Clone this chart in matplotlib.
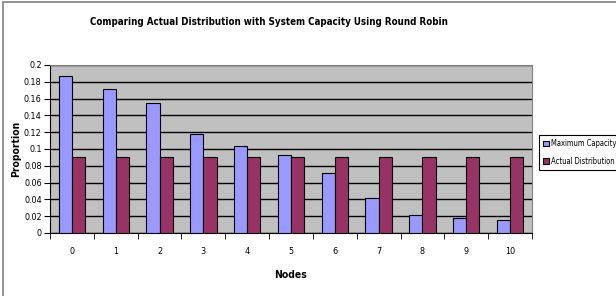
import numpy as np
import matplotlib.pyplot as plt
from matplotlib.patches import Rectangle

nodes = ['0', '1', '2', '3', '4', '5', '6', '7', '8', '9', '10']
max_capacity = [0.187, 0.172, 0.155, 0.118, 0.103, 0.093, 0.071, 0.042, 0.021, 0.018, 0.015]
actual_dist = [0.0909] * 11
yticks = [0, 0.02, 0.04, 0.06, 0.08, 0.1, 0.12, 0.14, 0.16, 0.18, 0.2]
ytick_labels = ['0', '0.02', '0.04', '0.06', '0.08', '0.1', '0.12', '0.14', '0.16', '0.18', '0.2']

plt.rcParams['font.family'] = ['DejaVu Sans']
plt.rcParams['font.stretch'] = 'condensed'

fig = plt.figure(figsize=(6.16, 2.96), dpi=100)
ax = fig.add_axes([50/616, 63/296, 482/616, 168/296])

# outer chart border (right/bottom edges fall outside the image)
fig.patches.append(Rectangle((3/616, -0.05), 1.2, 1.05 - 2/296, transform=fig.transFigure,
                             fill=False, edgecolor='#808080', linewidth=1.2))

x = np.arange(len(nodes))
w = 0.3
ax.set_facecolor('#C0C0C0')
ax.bar(x - w/2, max_capacity, w, color='#9999FF', edgecolor='black', linewidth=0.8,
       label='Maximum Capacity', zorder=3)
ax.bar(x + w/2, actual_dist, w, color='#993366', edgecolor='black', linewidth=0.8,
       label='Actual Distribution', zorder=3)

ax.set_xlim(-0.5, len(nodes) - 0.5)
ax.set_ylim(0, 0.2)
ax.set_yticks(yticks)
ax.set_yticklabels(ytick_labels, fontsize=6.5)
ax.yaxis.grid(True, color='black', linewidth=1.0, zorder=1)
ax.set_axisbelow(True)

ax.set_xticks(x)
ax.set_xticklabels(nodes, fontsize=6.5)
ax.tick_params(axis='x', length=0, pad=10)
ax.set_xticks(np.arange(-0.5, len(nodes)), minor=True)
ax.tick_params(axis='x', which='minor', length=4, direction='out')
ax.tick_params(axis='y', length=4, direction='out', pad=2)

for s in ['top', 'right']:
    ax.spines[s].set_color('#808080')
for s in ['left', 'bottom']:
    ax.spines[s].set_color('black')

ax.set_xlabel('Nodes', fontsize=7.5, fontweight='bold', labelpad=10)
ax.set_ylabel('Proportion', fontsize=7.5, fontweight='bold', labelpad=2)
fig.text(269/616, 1 - 22/296, 'Comparing Actual Distribution with System Capacity Using Round Robin',
         ha='center', va='center', fontsize=7, fontweight='bold')

leg = fig.legend(loc='upper left', bbox_to_anchor=(539/616, 1 - 135/296), fontsize=5.5,
                 frameon=True, fancybox=False, edgecolor='black', framealpha=1,
                 handlelength=0.7, handleheight=0.7, handletextpad=0.3,
                 borderpad=0.55, labelspacing=1.1, borderaxespad=0)
leg.get_frame().set_linewidth(0.8)

fig.savefig('out.png', dpi=100)
